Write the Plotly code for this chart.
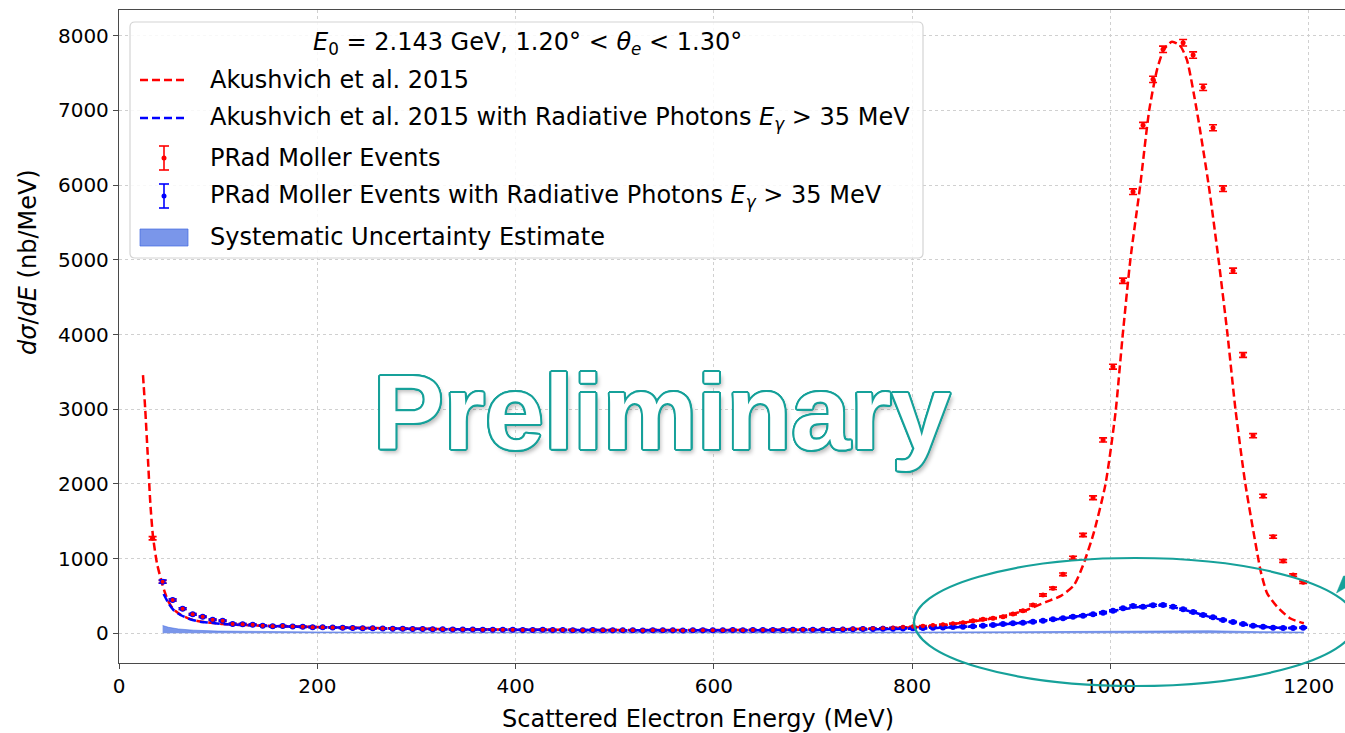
import math
import plotly.graph_objects as go

# ---------------------------------------------------------------------------
# Measured spectra: bin centres (MeV) and d(sigma)/dE (nb/MeV)
# ---------------------------------------------------------------------------
energy_bins = [
    33.9, 44.0, 54.1, 64.2, 74.3, 84.4, 94.4, 104.5, 114.6, 124.7,
    134.8, 144.9, 155.0, 165.1, 175.2, 185.3, 195.3, 205.4, 215.5, 225.6,
    235.7, 245.8, 255.9, 266.0, 276.1, 286.2, 296.2, 306.3, 316.4, 326.5,
    336.6, 346.7, 356.8, 366.9, 377.0, 387.1, 397.1, 407.2, 417.3, 427.4,
    437.5, 447.6, 457.7, 467.8, 477.9, 488.0, 498.0, 508.1, 518.2, 528.3,
    538.4, 548.5, 558.6, 568.7, 578.8, 588.9, 598.9, 609.0, 619.1, 629.2,
    639.3, 649.4, 659.5, 669.6, 679.7, 689.8, 699.8, 709.9, 720.0, 730.1,
    740.2, 750.3, 760.4, 770.5, 780.6, 790.7, 800.7, 810.8, 820.9, 831.0,
    841.1, 851.2, 861.3, 871.4, 881.5, 891.6, 901.6, 911.7, 921.8, 931.9,
    942.0, 952.1, 962.2, 972.3, 982.4, 992.5, 1002.5, 1012.6, 1022.7, 1032.8,
    1042.9, 1053.0, 1063.1, 1073.2, 1083.3, 1093.4, 1103.4, 1113.5, 1123.6, 1133.7,
    1143.8, 1153.9, 1164.0, 1174.1, 1184.2, 1194.3,
]

prad_moller = [
    1272, 691, 446, 330, 254, 222, 182, 169, 124, 120,
    115, 102, 94, 97, 90, 86, 82, 80, 76, 74,
    70, 68, 66, 64, 62, 60, 58, 57, 55, 54,
    52, 51, 50, 49, 47, 48, 46, 45, 44, 46,
    43, 44, 42, 40, 43, 41, 42, 40, 41, 39,
    42, 40, 41, 39, 40, 42, 40, 41, 43, 42,
    44, 43, 45, 44, 46, 48, 47, 50, 52, 54,
    56, 60, 63, 68, 72, 80, 86, 95, 104, 115,
    128, 142, 169, 187, 201, 222, 258, 302, 379, 513,
    602, 790, 1012, 1316, 1815, 2588, 3569, 4720, 5912, 6800,
    7416, 7818, None, 7906, 7741, 7309, 6768, 5952, 4854, 3726,
    2645, 1838, 1293, 968, 780, 683,
]
prad_moller_err = [
    22, 18, 14, 12, 11, 10, 10, 9, 9, 9,
    8, 8, 8, 8, 8, 8, 8, 8, 8, 8,
    7, 7, 7, 7, 7, 7, 7, 7, 7, 7,
    7, 7, 7, 7, 7, 7, 7, 7, 7, 7,
    7, 7, 7, 7, 7, 7, 7, 7, 7, 7,
    7, 7, 7, 7, 7, 7, 7, 7, 7, 7,
    7, 7, 7, 7, 7, 7, 7, 7, 7, 7,
    7, 7, 7, 7, 7, 8, 8, 8, 8, 8,
    8, 9, 9, 10, 10, 10, 11, 12, 13, 15,
    16, 18, 20, 22, 25, 28, 32, 35, 38, 40,
    42, 43, 0, 44, 43, 42, 40, 38, 35, 32,
    28, 24, 20, 18, 16, 15,
]

prad_moller_rad = [
    None, 691, 446, 330, 254, 222, 182, 169, 124, 120,
    115, 102, 94, 97, 90, 86, 82, 80, 76, 74,
    70, 68, 66, 64, 62, 60, 58, 57, 55, 54,
    52, 51, 50, 49, 47, 48, 46, 45, 44, 46,
    43, 44, 42, 40, 43, 41, 42, 40, 41, 39,
    42, 40, 41, 39, 40, 42, 40, 41, 43, 42,
    44, 43, 45, 44, 46, 47, 46, 48, 49, 50,
    54, 56, 58, 60, 62, 65, 68, 71, 75, 79,
    83, 88, 94, 102, 111, 125, 134, 142, 155, 169,
    187, 201, 222, 236, 254, 275, 302, 334, 365, 356,
    375, 379, 356, 321, 285, 245, 214, 178, 151, 124,
    102, 88, 75, 71, 71, 75,
]
prad_moller_rad_err = [
    0, 22, 14, 12, 11, 10, 10, 9, 9, 9,
    8, 8, 8, 8, 8, 8, 8, 8, 8, 8,
    7, 7, 7, 7, 7, 7, 7, 7, 7, 7,
    7, 7, 7, 7, 7, 7, 7, 7, 7, 7,
    7, 7, 7, 7, 7, 7, 7, 7, 7, 7,
    7, 7, 7, 7, 7, 7, 7, 7, 7, 7,
    7, 7, 7, 7, 7, 7, 7, 7, 7, 7,
    7, 7, 7, 7, 7, 7, 7, 8, 8, 8,
    8, 8, 8, 8, 9, 9, 9, 9, 10, 10,
    10, 10, 11, 11, 11, 12, 12, 12, 13, 13,
    13, 13, 13, 12, 12, 12, 11, 11, 10, 10,
    9, 9, 8, 8, 8, 8,
]

# ---------------------------------------------------------------------------
# Akushevich et al. 2015 predictions
# ---------------------------------------------------------------------------
akushevich_energy = [
    24.2, 26.5, 28.9, 31.6, 34.3, 38.3, 43.4, 47, 50, 55,
    62, 72, 82, 92, 105, 125, 150, 200, 250, 300,
    350, 400, 450, 500, 550, 600, 650, 700, 750, 800,
    830, 850, 870, 890, 915, 935, 950, 963, 972, 983,
    995, 1005, 1012, 1020, 1030, 1039, 1047, 1054, 1062, 1070,
    1077, 1087, 1099, 1109, 1118, 1126, 1136, 1149, 1152, 1158,
    1168, 1181, 1195,
]
akushevich = [
    3457, 2990, 2409, 1740, 1293, 937, 669, 520, 420, 320,
    250, 190, 158, 142, 124, 111, 100, 85, 72, 62,
    55, 50, 46, 44, 43, 43, 45, 50, 60, 80,
    105, 140, 175, 225, 310, 420, 500, 640, 900, 1340,
    2000, 2950, 3950, 5000, 6000, 7000, 7550, 7820, 7920, 7870,
    7680, 7000, 6000, 5000, 4000, 3000, 2000, 1000, 800, 535,
    356, 201, 134,
]

akushevich_rad_energy = [
    45, 50, 55, 62, 72, 82, 92, 105, 125, 150,
    200, 250, 300, 350, 400, 450, 500, 550, 600, 650,
    700, 750, 800, 850, 900, 950, 1000, 1030, 1045, 1060,
    1080, 1100, 1120, 1140, 1160, 1180, 1195,
]
akushevich_rad = [
    526, 401, 312, 245, 187, 155, 142, 124, 111, 98,
    82, 70, 60, 53, 48, 44, 42, 41, 41, 42,
    45, 52, 62, 85, 128, 195, 295, 355, 378, 360,
    295, 220, 155, 108, 80, 70, 72,
]

# Systematic uncertainty band
sys_energy = [44, 50, 60, 75, 100, 150, 200, 300, 400, 500,
              600, 700, 800, 900, 950, 1000, 1050, 1100, 1150, 1195]
sys_upper = [105, 80, 58, 42, 30, 22, 18, 15, 14, 14,
             14, 15, 16, 20, 25, 32, 38, 34, 22, 16]
sys_lower = [0, 0, 0, 0, 0, 0, 0, 0, 0, 0,
             0, 0, 0, 0, 0, 0, 0, 0, 0, 0]

x_ticks = [0, 200, 400, 600, 800, 1000, 1200]
y_ticks = [0, 1000, 2000, 3000, 4000, 5000, 6000, 7000, 8000]

# ---------------------------------------------------------------------------
# Styling
# ---------------------------------------------------------------------------
RED = "#ff0000"
BLUE = "#0000ff"
BAND = "rgba(65,105,225,0.70)"
TEAL = "#16a19a"
FONT = "DejaVu Sans"
DASH = "8px,4px"

FIG_W, FIG_H = 1345, 733
M_L, M_T, M_B = 119, 10, 70
PLOT_B = FIG_H - M_B


def px(x):
    """Pixel column -> paper x."""
    return (x - M_L) / (FIG_W - M_L)


def py(y):
    """Pixel row -> paper y."""
    return (PLOT_B - y) / (PLOT_B - M_T)


fig = go.Figure()

# systematic band
fig.add_trace(go.Scatter(x=sys_energy, y=sys_lower, mode="lines",
                         line=dict(width=0, color=BAND), hoverinfo="skip",
                         showlegend=False))
fig.add_trace(go.Scatter(x=sys_energy, y=sys_upper, mode="lines",
                         line=dict(width=0.8, color=BAND), fill="tonexty",
                         fillcolor=BAND, showlegend=False))

# theory curves
fig.add_trace(go.Scatter(x=akushevich_energy, y=akushevich, mode="lines",
                         line=dict(color=RED, width=2.5, dash=DASH,
                                   shape="spline", smoothing=0.6),
                         showlegend=False))
fig.add_trace(go.Scatter(x=akushevich_rad_energy, y=akushevich_rad, mode="lines",
                         line=dict(color=BLUE, width=2.5, dash=DASH,
                                   shape="spline", smoothing=0.6),
                         showlegend=False))

# measured spectra
fig.add_trace(go.Scatter(
    x=energy_bins, y=prad_moller, mode="markers",
    marker=dict(color=RED, size=5),
    error_y=dict(type="data", array=prad_moller_err, color=RED,
                 thickness=1.6, width=4),
    showlegend=False))
fig.add_trace(go.Scatter(
    x=energy_bins, y=prad_moller_rad, mode="markers",
    marker=dict(color=BLUE, size=6),
    error_y=dict(type="data", array=prad_moller_rad_err, color=BLUE,
                 thickness=1.6, width=4),
    showlegend=False))
fig.add_trace(go.Scatter(
    x=energy_bins, y=prad_moller, mode="markers",
    marker=dict(color=RED, size=4), showlegend=False, hoverinfo="skip"))

shapes = []
annotations = []

# ---------------------------------------------------------------------------
# Legend box (drawn by hand)
# ---------------------------------------------------------------------------
def rounded_rect(x0, y0, x1, y1, r):
    X = lambda v: f"{px(v):.5f}"
    Y = lambda v: f"{py(v):.5f}"
    return (f"M {X(x0 + r)},{Y(y0)} L {X(x1 - r)},{Y(y0)} "
            f"Q {X(x1)},{Y(y0)} {X(x1)},{Y(y0 + r)} L {X(x1)},{Y(y1 - r)} "
            f"Q {X(x1)},{Y(y1)} {X(x1 - r)},{Y(y1)} L {X(x0 + r)},{Y(y1)} "
            f"Q {X(x0)},{Y(y1)} {X(x0)},{Y(y1 - r)} L {X(x0)},{Y(y0 + r)} "
            f"Q {X(x0)},{Y(y0)} {X(x0 + r)},{Y(y0)} Z")


shapes.append(dict(type="path", xref="paper", yref="paper",
                   path=rounded_rect(130, 22, 923, 258, 5),
                   fillcolor="rgba(255,255,255,0.85)",
                   line=dict(color="#d4d4d4", width=1.2), layer="above"))

legend_title = ("<i>E</i><sub>0</sub> = 2.143 GeV, 1.20° &lt; "
                "<i>θ</i><sub><i>e</i></sub> &lt; 1.30°")
annotations.append(dict(x=px(527), y=py(43), xref="paper", yref="paper",
                        text=legend_title, showarrow=False,
                        xanchor="center", yanchor="middle",
                        font=dict(family=FONT, size=24, color="black")))

legend_rows = [
    ("line", RED, 80, "Akushvich et al. 2015"),
    ("line", BLUE, 118,
     "Akushvich et al. 2015 with Radiative Photons <i>E</i><sub><i>γ</i></sub> &gt; 35 MeV"),
    ("err", RED, 158, "PRad Moller Events"),
    ("err", BLUE, 196,
     "PRad Moller Events with Radiative Photons <i>E</i><sub><i>γ</i></sub> &gt; 35 MeV"),
    ("patch", BAND, 237, "Systematic Uncertainty Estimate"),
]
for kind, col, yc, label in legend_rows:
    if kind == "line":
        shapes.append(dict(type="line", xref="paper", yref="paper",
                           x0=px(140), x1=px(188), y0=py(yc), y1=py(yc),
                           line=dict(color=col, width=2.5, dash=DASH),
                           layer="above"))
    elif kind == "err":
        shapes.append(dict(type="line", xref="paper", yref="paper",
                           x0=px(164), x1=px(164), y0=py(yc - 12), y1=py(yc + 12),
                           line=dict(color=col, width=1.6), layer="above"))
        for cap in (yc - 12, yc + 12):
            shapes.append(dict(type="line", xref="paper", yref="paper",
                               x0=px(159), x1=px(169), y0=py(cap), y1=py(cap),
                               line=dict(color=col, width=1.6), layer="above"))
        shapes.append(dict(type="circle", xref="paper", yref="paper",
                           x0=px(161.5), x1=px(166.5), y0=py(yc + 2.5), y1=py(yc - 2.5),
                           fillcolor=col, line=dict(color=col, width=0),
                           layer="above"))
    else:
        shapes.append(dict(type="rect", xref="paper", yref="paper",
                           x0=px(140), x1=px(188), y0=py(246), y1=py(229),
                           fillcolor=col, line=dict(color=col, width=1),
                           layer="above"))
    annotations.append(dict(x=px(208), y=py(yc), xref="paper", yref="paper",
                            text=label, showarrow=False,
                            xanchor="left", yanchor="middle",
                            font=dict(family=FONT, size=24, color="black")))

# ---------------------------------------------------------------------------
# Axis titles
# ---------------------------------------------------------------------------
annotations.append(dict(x=px(698), y=py(719), xref="paper", yref="paper",
                        text="Scattered Electron Energy (MeV)", showarrow=False,
                        xanchor="center", yanchor="middle",
                        font=dict(family=FONT, size=24, color="black")))
annotations.append(dict(x=px(28), y=py(262), xref="paper", yref="paper",
                        text="<i>dσ</i>/<i>dE</i> (nb/MeV)", showarrow=False,
                        textangle=-90, xanchor="center", yanchor="middle",
                        font=dict(family=FONT, size=24, color="black")))

# ---------------------------------------------------------------------------
# Watermark, highlight ellipse and arrow head
# ---------------------------------------------------------------------------
outline = []
for k in range(16):
    a = 2 * math.pi * k / 16
    outline.append(f"{2.0 * math.cos(a):.2f}px {2.0 * math.sin(a):.2f}px 0 {TEAL}")
outline.append("3px 4px 4px rgba(0,0,0,0.28)")
annotations.append(dict(x=px(661), y=py(412), xref="paper", yref="paper",
                        text="Preliminary", showarrow=False,
                        xanchor="center", yanchor="middle",
                        font=dict(family="Liberation Sans", size=106,
                                  color="white", weight="bold",
                                  shadow=", ".join(outline))))

shapes.append(dict(type="circle", xref="paper", yref="paper",
                   x0=px(914), x1=px(1356), y0=py(686), y1=py(558),
                   line=dict(color=TEAL, width=2.2), layer="above"))
shapes.append(dict(type="path", xref="paper", yref="paper",
                   path=(f"M {px(1336.5)},{py(593)} L {px(1343.5)},{py(576)} "
                         f"L {px(1345)},{py(576)} L {px(1345)},{py(588)} Z"),
                   fillcolor=TEAL, line=dict(color=TEAL, width=0.5),
                   layer="above"))

# ---------------------------------------------------------------------------
# Layout
# ---------------------------------------------------------------------------
axis_common = dict(
    showline=True, linecolor="#4a4a4a", linewidth=1.3,
    ticks="outside", ticklen=5, tickwidth=1.3, tickcolor="#4a4a4a",
    showgrid=True, gridcolor="#d0d0d0", gridwidth=1, griddash="dot",
    zeroline=False, automargin=False,
    tickfont=dict(family=FONT, size=20, color="black"),
)

fig.update_layout(
    width=FIG_W, height=FIG_H,
    margin=dict(l=M_L, r=0, t=M_T, b=M_B, pad=0),
    paper_bgcolor="white", plot_bgcolor="white",
    xaxis=dict(range=[0, 1236.5], tickvals=x_ticks, mirror=True, **axis_common),
    yaxis=dict(range=[-397.6, 8344], tickvals=y_ticks, mirror=False, **axis_common),
    shapes=shapes, annotations=annotations, showlegend=False,
)

fig.write_html("out.html")
